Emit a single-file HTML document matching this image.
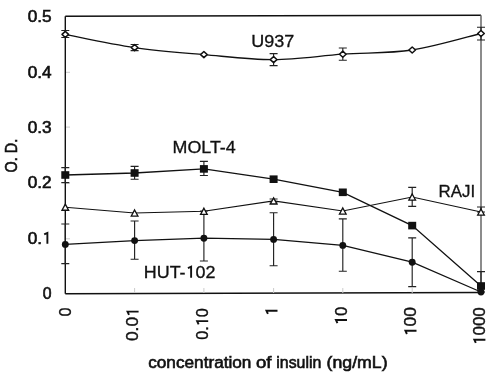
<!DOCTYPE html>
<html><head><meta charset="utf-8"><style>
html,body{margin:0;padding:0;background:#fff;width:500px;height:382px;overflow:hidden}
svg{display:block;will-change:transform}
text{font-family:"Liberation Sans",sans-serif}
.t{fill:#111}
.s{stroke:#111;stroke-width:0.6px}
.s3{stroke:#111;stroke-width:0.4px}
.s2{stroke:#111;stroke-width:0.3px}
.h{fill:none;stroke:none}
.one{stroke:#111;stroke-width:1.9px;stroke-linejoin:miter}
.b{font-weight:bold;fill:#111}
.m{fill:#111;stroke:#111;stroke-width:0.6px}
</style></head><body>
<svg width="500" height="382" viewBox="0 0 500 382">
<path d="M65.3,16.3 L481,15.2" stroke="#111" stroke-width="1.4" fill="none"/>
<path d="M65.3,16.3 V293.7" stroke="#111" stroke-width="1.4" fill="none"/>
<path d="M481,15.2 V292.5" stroke="#666" stroke-width="1.5" fill="none"/>
<path d="M65.3,293.7 L481,292.5" stroke="#111" stroke-width="1.4" fill="none"/>
<path d="M134.6,293 V288 M203.9,293 V288 M273.6,293 V288 M342.8,293 V288 M412.2,293 V288 M66,72.3 H70 M66,127.1 H70 M66,183.2 H70 M66,238.8 H70" stroke="#ccc" stroke-width="1" fill="none"/>
<path d="M65.3,30.5 V37.5 M61.3,30.5 H69.3 M61.3,37.5 H69.3 M134.6,44.5 V50.6 M130.6,44.5 H138.6 M130.6,50.6 H138.6 M273.6,53.6 V65.6 M269.6,53.6 H277.6 M269.6,65.6 H277.6 M342.8,48 V60.2 M338.8,48 H346.8 M338.8,60.2 H346.8 M481,27.2 V40 M477,27.2 H485 M477,40 H485" stroke="#222" stroke-width="1.15" fill="none"/>
<path d="M65.3,167.6 V182.6 M61.3,167.6 H69.3 M61.3,182.6 H69.3 M134.6,166.4 V179.2 M130.6,166.4 H138.6 M130.6,179.2 H138.6 M203.9,161.4 V175.5 M199.9,161.4 H207.9 M199.9,175.5 H207.9" stroke="#222" stroke-width="1.15" fill="none"/>
<path d="M273.6,199 V203 M269.6,199 H277.6 M269.6,203 H277.6 M412.2,187.4 V206.4 M408.2,187.4 H416.2 M408.2,206.4 H416.2 M481,207 V212 M477,207 H485 M477,212 H485" stroke="#222" stroke-width="1.15" fill="none"/>
<path d="M65.3,224 V263.6 M61.3,224 H69.3 M61.3,263.6 H69.3 M134.6,221 V259.2 M130.6,221 H138.6 M130.6,259.2 H138.6 M203.9,211 V261 M199.9,211 H207.9 M199.9,261 H207.9 M273.6,212.7 V265.7 M269.6,212.7 H277.6 M269.6,265.7 H277.6 M342.8,218.8 V271.2 M338.8,218.8 H346.8 M338.8,271.2 H346.8 M412.2,237.9 V286.6 M408.2,237.9 H416.2 M408.2,286.6 H416.2 M481,271.6 V292 M477,271.6 H485 M477,292 H485" stroke="#222" stroke-width="1.15" fill="none"/>
<path d="M65.3,34.4 C76.85,36.6 111.5,44.23 134.6,47.6 C157.7,50.97 180.73,52.6 203.9,54.6 C227.07,56.6 250.45,59.67 273.6,59.6 C296.75,59.53 319.7,55.8 342.8,54.2 C365.9,52.6 389.17,53.45 412.2,50 C435.23,46.55 469.53,36.25 481,33.5" stroke="#111" stroke-width="1.3" fill="none"/>
<path d="M65.3,175 L134.6,173 L203.9,168.9 L273.6,179.2 L342.8,192.3 L412.2,225.6 L481,286" stroke="#111" stroke-width="1.3" fill="none"/>
<path d="M65.3,207.2 L134.6,213 L203.9,211.3 L273.6,200.9 L342.8,211 L412.2,197 L481,212" stroke="#111" stroke-width="1.15" fill="none"/>
<path d="M65.3,244.4 L134.6,240.6 L203.9,238.2 L273.6,239.4 L342.8,245.4 L412.2,262.2 L481,292" stroke="#111" stroke-width="1.3" fill="none"/>
<path d="M65.3,31.35 l3.3,3.05 l-3.3,3.05 l-3.3,-3.05 z" fill="#fff" stroke="#111" stroke-width="1.5" stroke-linejoin="round"/>
<path d="M134.6,44.55 l3.3,3.05 l-3.3,3.05 l-3.3,-3.05 z" fill="#fff" stroke="#111" stroke-width="1.5" stroke-linejoin="round"/>
<path d="M203.9,51.55 l3.3,3.05 l-3.3,3.05 l-3.3,-3.05 z" fill="#fff" stroke="#111" stroke-width="1.5" stroke-linejoin="round"/>
<path d="M273.6,56.55 l3.3,3.05 l-3.3,3.05 l-3.3,-3.05 z" fill="#fff" stroke="#111" stroke-width="1.5" stroke-linejoin="round"/>
<path d="M342.8,51.15 l3.3,3.05 l-3.3,3.05 l-3.3,-3.05 z" fill="#fff" stroke="#111" stroke-width="1.5" stroke-linejoin="round"/>
<path d="M412.2,46.95 l3.3,3.05 l-3.3,3.05 l-3.3,-3.05 z" fill="#fff" stroke="#111" stroke-width="1.5" stroke-linejoin="round"/>
<path d="M481,30.45 l3.3,3.05 l-3.3,3.05 l-3.3,-3.05 z" fill="#fff" stroke="#111" stroke-width="1.5" stroke-linejoin="round"/>
<rect x="61.3" y="171.2" width="8" height="7.6" fill="#111"/>
<rect x="130.6" y="169.2" width="8" height="7.6" fill="#111"/>
<rect x="199.9" y="165.1" width="8" height="7.6" fill="#111"/>
<rect x="269.6" y="175.4" width="8" height="7.6" fill="#111"/>
<rect x="338.8" y="188.5" width="8" height="7.6" fill="#111"/>
<rect x="408.2" y="221.8" width="8" height="7.6" fill="#111"/>
<rect x="477" y="282.2" width="8" height="7.6" fill="#111"/>
<path d="M65.3,204.15 l3.3,6.1 h-6.6 z" fill="#fff" stroke="#111" stroke-width="1.35"/>
<path d="M134.6,209.95 l3.3,6.1 h-6.6 z" fill="#fff" stroke="#111" stroke-width="1.35"/>
<path d="M203.9,208.25 l3.3,6.1 h-6.6 z" fill="#fff" stroke="#111" stroke-width="1.35"/>
<path d="M273.6,197.85 l3.3,6.1 h-6.6 z" fill="#fff" stroke="#111" stroke-width="1.35"/>
<path d="M342.8,207.95 l3.3,6.1 h-6.6 z" fill="#fff" stroke="#111" stroke-width="1.35"/>
<path d="M412.2,193.95 l3.3,6.1 h-6.6 z" fill="#fff" stroke="#111" stroke-width="1.35"/>
<path d="M481,208.95 l3.3,6.1 h-6.6 z" fill="#fff" stroke="#111" stroke-width="1.35"/>
<circle cx="65.3" cy="244.4" r="3.45" fill="#111"/>
<circle cx="134.6" cy="240.6" r="3.45" fill="#111"/>
<circle cx="203.9" cy="238.2" r="3.45" fill="#111"/>
<circle cx="273.6" cy="239.4" r="3.45" fill="#111"/>
<circle cx="342.8" cy="245.4" r="3.45" fill="#111"/>
<circle cx="412.2" cy="262.2" r="3.45" fill="#111"/>
<circle cx="481" cy="292" r="3.45" fill="#111"/>
<text id="t1" transform="translate(27.7,22.1) scale(1,0.98)" class="t s" font-size="16" textLength="23.9" lengthAdjust="spacingAndGlyphs">0.5</text>
<text id="t2" transform="translate(27.7,78.1) scale(1,0.98)" class="t s" font-size="16" textLength="23.9" lengthAdjust="spacingAndGlyphs">0.4</text>
<text id="t3" transform="translate(27.7,132.9) scale(1,0.98)" class="t s" font-size="16" textLength="23.9" lengthAdjust="spacingAndGlyphs">0.3</text>
<text id="t4" transform="translate(27.7,188.2) scale(1,0.98)" class="t s" font-size="16" textLength="23.9" lengthAdjust="spacingAndGlyphs">0.2</text>
<text id="t5" transform="translate(27.7,243.5) scale(1,0.98)" class="t s" font-size="16" textLength="23.9" lengthAdjust="spacingAndGlyphs">0.<tspan class="h">1</tspan></text><g transform="translate(27.7,243.5) scale(1,0.98)"><path d="M19.69,0.2 V-10.86 L16.49,-9.38" class="one" fill="none"/></g>
<text id="t6" transform="translate(42.8,299.2) scale(1,0.98)" class="t s" font-size="16" textLength="8.8" lengthAdjust="spacingAndGlyphs">0</text>
<text id="t7" transform="translate(70.6,316.6) rotate(-90)" class="t s3" font-size="16" textLength="9" lengthAdjust="spacingAndGlyphs">0</text>
<text id="t8" transform="translate(138.4,341) rotate(-90)" class="t s3" font-size="16" textLength="33.6" lengthAdjust="spacingAndGlyphs">0.0<tspan class="h">1</tspan></text><g transform="translate(138.4,341) rotate(-90)"><path d="M29.37,0.2 V-10.86 L26.17,-9.38" class="one" fill="none"/></g>
<text id="t9" transform="translate(208,339.7) rotate(-90)" class="t s3" font-size="16" textLength="31.6" lengthAdjust="spacingAndGlyphs">0.<tspan class="h">1</tspan>0</text><g transform="translate(208,339.7) rotate(-90)"><path d="M18.59,0.2 V-10.86 L15.39,-9.38" class="one" fill="none"/></g>
<text id="t10" transform="translate(277.3,314.4) rotate(-90)" class="t s3" font-size="16" textLength="6.5" lengthAdjust="spacingAndGlyphs"><tspan class="h">1</tspan></text><g transform="translate(277.3,314.4) rotate(-90)"><path d="M3.64,0.2 V-10.86 L0.44,-9.38" class="one" fill="none"/></g>
<text id="t11" transform="translate(346.8,325.2) rotate(-90)" class="t s3" font-size="16" textLength="18.6" lengthAdjust="spacingAndGlyphs"><tspan class="h">1</tspan>0</text><g transform="translate(346.8,325.2) rotate(-90)"><path d="M5.21,0.2 V-10.86 L2.01,-9.38" class="one" fill="none"/></g>
<text id="t12" transform="translate(416.3,336.2) rotate(-90)" class="t s3" font-size="16" textLength="29" lengthAdjust="spacingAndGlyphs"><tspan class="h">1</tspan>00</text><g transform="translate(416.3,336.2) rotate(-90)"><path d="M5.42,0.2 V-10.86 L2.22,-9.38" class="one" fill="none"/></g>
<text id="t13" transform="translate(485.2,345) rotate(-90)" class="t s3" font-size="16" textLength="37.8" lengthAdjust="spacingAndGlyphs"><tspan class="h">1</tspan>000</text><g transform="translate(485.2,345) rotate(-90)"><path d="M5.29,0.2 V-10.86 L2.09,-9.38" class="one" fill="none"/></g>
<text id="t14" transform="translate(17,172.4) rotate(-90)" class="t s" font-size="16" textLength="33.6" lengthAdjust="spacingAndGlyphs">O. D.</text>
<text id="t15" transform="translate(251.3,46.8)" class="t s2" font-size="16" textLength="43" lengthAdjust="spacingAndGlyphs">U937</text>
<text id="t16" transform="translate(172.5,153)" class="t s2" font-size="16" textLength="63.2" lengthAdjust="spacingAndGlyphs">MOLT-4</text>
<text id="t17" transform="translate(438.6,197.2)" class="t s2" font-size="16" textLength="36.6" lengthAdjust="spacingAndGlyphs">RAJI</text>
<text id="t18" transform="translate(143.8,277.6)" class="t s2" font-size="16" textLength="71.6" lengthAdjust="spacingAndGlyphs">HUT-<tspan class="h">1</tspan>02</text><g transform="translate(143.8,277.6)"><path d="M47.32,0.2 V-10.86 L44.12,-9.38" class="one" fill="none"/></g>
<text id="t19" transform="translate(148.2,367.8)" class="m" font-size="16" textLength="103.2" lengthAdjust="spacingAndGlyphs">concentration</text>
<text id="t20" transform="translate(256,367.8)" class="m" font-size="16" textLength="15.5" lengthAdjust="spacingAndGlyphs">of</text>
<text id="t21" transform="translate(276.3,367.8)" class="m" font-size="16" textLength="45" lengthAdjust="spacingAndGlyphs">insulin</text>
<text id="t22" transform="translate(326.6,367.8)" class="m" font-size="16" textLength="61" lengthAdjust="spacingAndGlyphs">(ng/mL)</text>
</svg>
</body></html>
